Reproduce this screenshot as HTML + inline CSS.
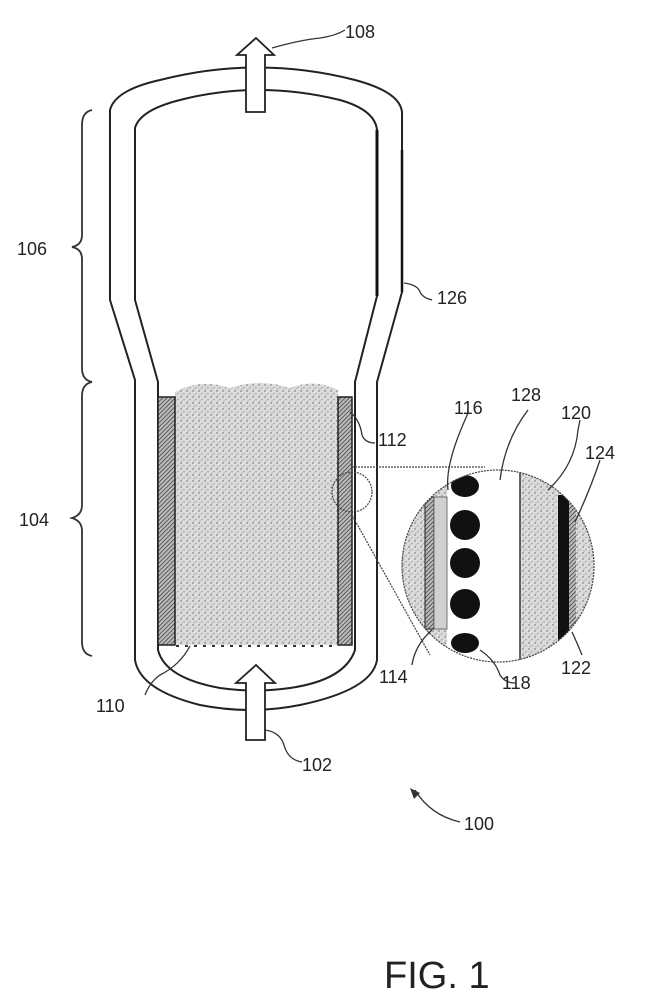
<!DOCTYPE html>
<html><head><style>body{margin:0;background:#fff}svg{display:block}text{font-family:"Liberation Sans",sans-serif;fill:#222}</style></head><body>
<svg width="657" height="993" viewBox="0 0 657 993" xmlns="http://www.w3.org/2000/svg">
<defs>
<pattern id="st" width="6" height="6" patternUnits="userSpaceOnUse"><rect width="6" height="6" fill="#dcdcdc"/><circle cx="1" cy="1" r="0.9" fill="#888"/><circle cx="4" cy="3.5" r="0.8" fill="#999"/><circle cx="2" cy="5" r="0.7" fill="#aaa"/></pattern>
<pattern id="ht" width="3" height="3" patternUnits="userSpaceOnUse" patternTransform="rotate(45)"><rect width="3" height="3" fill="#bbb"/><line x1="0" y1="0" x2="0" y2="3" stroke="#333" stroke-width="1.4"/></pattern>
<clipPath id="cc"><circle cx="498" cy="566" r="96"/></clipPath>
</defs>
<g fill="none" stroke="#222" stroke-width="2">
<path d="M135,660 L135,380 L110,300 L110,110 Q115,90 160,80 Q258,55 355,80 Q400,92 402,112 L402,292 L377,382 L377,660 Q372,690 300,705 Q250,715 200,705 Q140,690 135,660 Z"/>
<path d="M158,650 L158,382 L135,300 L135,128 Q140,110 180,100 Q258,80 340,100 Q375,110 377,130 L377,296 L355,382 L355,650 Q345,680 290,688 Q255,693 220,688 Q165,678 158,650 Z"/>
</g>
<line x1="377" y1="130" x2="377" y2="296" stroke="#111" stroke-width="3"/>
<line x1="402" y1="150" x2="402" y2="292" stroke="#111" stroke-width="2.5"/>
<path d="M175,645 L175,392 Q200,378 230,388 Q260,378 290,388 Q315,378 338,390 L338,645 Z" fill="url(#st)"/>
<rect x="158" y="397" width="17" height="248" fill="url(#ht)" stroke="#222" stroke-width="1.5"/>
<rect x="338" y="397" width="14" height="248" fill="url(#ht)" stroke="#222" stroke-width="1.5"/>
<line x1="176" y1="646" x2="337" y2="646" stroke="#333" stroke-width="2" stroke-dasharray="3,6"/>
<path d="M246,112 L246,55 L237,55 L256,38 L274,55 L265,55 L265,112 Z" fill="#fff" stroke="#222" stroke-width="1.8"/>
<path d="M246,740 L246,683 L236,683 L256,665 L275,683 L265,683 L265,740 Z" fill="#fff" stroke="#222" stroke-width="1.8"/>
<g fill="none" stroke="#333" stroke-width="1.8">
<path d="M92,110 Q82,112 82,125 L82,235 Q82,245 72,247 Q82,249 82,259 L82,368 Q82,380 92,382"/>
<path d="M92,382 Q82,384 82,396 L82,505 Q82,515 72,518 Q82,521 82,531 L82,642 Q82,654 92,656"/>
</g>
<g stroke="#444" stroke-width="1.2" fill="none" stroke-dasharray="2,1">
<circle cx="352" cy="492" r="20"/>
<line x1="352" y1="467" x2="485" y2="467"/>
<line x1="352" y1="515" x2="430" y2="655"/>
</g>
<g clip-path="url(#cc)">
<rect x="400" y="468" width="200" height="200" fill="url(#st)"/>
<rect x="447" y="468" width="73" height="200" fill="#fff"/>
<rect x="425" y="497" width="9" height="132" fill="url(#ht)" stroke="#222"/>
<rect x="434" y="497" width="13" height="132" fill="#d0d0d0" stroke="#555" stroke-width="0.8"/>
<rect x="558" y="495" width="11" height="145" fill="#111"/>
<rect x="569" y="495" width="7" height="145" fill="url(#ht)"/>
<line x1="520" y1="470" x2="520" y2="665" stroke="#333" stroke-width="1.5"/>
<g fill="#111"><ellipse cx="465" cy="486" rx="14" ry="11"/><circle cx="465" cy="525" r="15"/><circle cx="465" cy="563" r="15"/><circle cx="465" cy="604" r="15"/><ellipse cx="465" cy="643" rx="14" ry="10"/></g>
</g>
<circle cx="498" cy="566" r="96" fill="none" stroke="#444" stroke-width="1.2" stroke-dasharray="2,1"/>
<g fill="none" stroke="#333" stroke-width="1.3">
<path d="M272,48 Q300,40 320,38 Q335,36 345,30"/>
<path d="M404,283 Q418,285 420,292 Q423,298 432,300"/>
<path d="M350,412 Q360,420 362,435 Q365,443 375,443"/>
<path d="M448,490 Q445,465 465,420 L468,413"/>
<path d="M500,480 Q505,440 528,410"/>
<path d="M548,490 Q575,465 578,430 L580,420"/>
<path d="M575,522 Q590,490 600,460"/>
<path d="M572,632 Q578,645 582,655"/>
<path d="M480,650 Q495,660 500,675 Q505,683 515,683"/>
<path d="M432,630 Q415,645 412,665"/>
<path d="M190,646 Q180,665 160,675 Q150,682 145,695"/>
<path d="M265,730 Q280,732 284,745 Q288,760 302,762"/>
<path d="M460,822 Q430,815 415,790"/>
</g>
<path d="M410,788 L414,799 L420,793 Z" fill="#333"/>
<g font-size="18">
<text x="345" y="38">108</text>
<text x="437" y="304">126</text>
<text x="378" y="446">112</text>
<text x="454" y="414">116</text>
<text x="511" y="401">128</text>
<text x="561" y="419">120</text>
<text x="585" y="459">124</text>
<text x="561" y="674">122</text>
<text x="502" y="689">118</text>
<text x="379" y="683">114</text>
<text x="96" y="712">110</text>
<text x="302" y="771">102</text>
<text x="464" y="830">100</text>
<text x="17" y="255">106</text>
<text x="19" y="526">104</text>
</g>
<text x="384" y="988" font-size="38">FIG. 1</text>
</svg>
</body></html>
